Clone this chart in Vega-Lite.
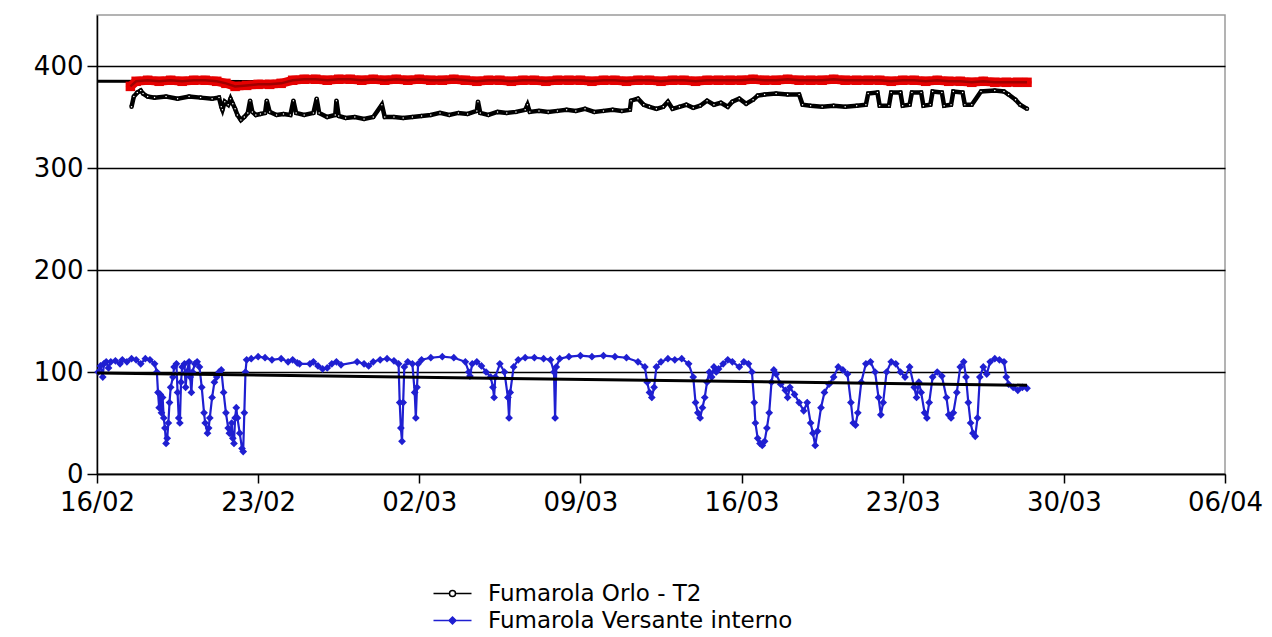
{
"$schema": "https://vega.github.io/schema/vega-lite/v6.json",
"width": 1128, "height": 459,
"autosize": {"type": "none"},
"padding": {"left": 97, "top": 15, "right": 47, "bottom": 163},
"background": "white",
"config": {"view": {"stroke": "#9a9a9a", "strokeWidth": 1.5}, "font": "DejaVu Sans"},
"datasets": {
"versante": [
{"time":"2010-02-16T01:12","value":100},{"time":"2010-02-16T03:36","value":106},{"time":"2010-02-16T06:00","value":95},{"time":"2010-02-16T07:12","value":108},{"time":"2010-02-16T09:36","value":110},{"time":"2010-02-16T12:00","value":104},{"time":"2010-02-16T14:24","value":110},{"time":"2010-02-16T19:12","value":111},
{"time":"2010-02-17T00:00","value":108},{"time":"2010-02-17T02:24","value":112},{"time":"2010-02-17T07:12","value":110},{"time":"2010-02-17T12:00","value":113},{"time":"2010-02-17T16:48","value":112},{"time":"2010-02-17T21:36","value":108},
{"time":"2010-02-18T02:24","value":113},{"time":"2010-02-18T07:12","value":112},{"time":"2010-02-18T12:00","value":108},{"time":"2010-02-18T14:24","value":100},{"time":"2010-02-18T15:36","value":80},{"time":"2010-02-18T16:48","value":65},{"time":"2010-02-18T18:00","value":78},{"time":"2010-02-18T19:12","value":60},{"time":"2010-02-18T20:24","value":75},{"time":"2010-02-18T21:36","value":55},{"time":"2010-02-18T22:48","value":45},
{"time":"2010-02-19T00:00","value":30},{"time":"2010-02-19T01:12","value":35},{"time":"2010-02-19T02:24","value":50},{"time":"2010-02-19T03:36","value":70},{"time":"2010-02-19T04:48","value":85},{"time":"2010-02-19T07:12","value":95},{"time":"2010-02-19T08:24","value":105},{"time":"2010-02-19T10:48","value":108},{"time":"2010-02-19T12:00","value":80},{"time":"2010-02-19T13:12","value":55},{"time":"2010-02-19T14:24","value":50},{"time":"2010-02-19T15:36","value":90},{"time":"2010-02-19T16:48","value":105},{"time":"2010-02-19T19:12","value":108},{"time":"2010-02-19T20:24","value":85},{"time":"2010-02-19T21:36","value":100},
{"time":"2010-02-20T00:00","value":110},{"time":"2010-02-20T01:12","value":95},{"time":"2010-02-20T02:24","value":80},{"time":"2010-02-20T03:36","value":100},{"time":"2010-02-20T06:00","value":108},{"time":"2010-02-20T08:24","value":110},{"time":"2010-02-20T10:48","value":105},{"time":"2010-02-20T13:12","value":85},{"time":"2010-02-20T15:36","value":60},{"time":"2010-02-20T16:48","value":50},{"time":"2010-02-20T19:12","value":40},{"time":"2010-02-20T20:24","value":45},{"time":"2010-02-20T21:36","value":55},
{"time":"2010-02-21T00:00","value":75},{"time":"2010-02-21T02:24","value":90},{"time":"2010-02-21T04:48","value":95},{"time":"2010-02-21T07:12","value":100},{"time":"2010-02-21T09:36","value":102},{"time":"2010-02-21T12:00","value":80},{"time":"2010-02-21T14:24","value":60},{"time":"2010-02-21T16:48","value":45},{"time":"2010-02-21T18:00","value":40},{"time":"2010-02-21T19:12","value":40},{"time":"2010-02-21T20:24","value":50},{"time":"2010-02-21T21:36","value":35},{"time":"2010-02-21T22:48","value":30},
{"time":"2010-02-22T00:00","value":55},{"time":"2010-02-22T01:12","value":65},{"time":"2010-02-22T02:24","value":55},{"time":"2010-02-22T04:48","value":40},{"time":"2010-02-22T07:12","value":25},{"time":"2010-02-22T08:24","value":22},{"time":"2010-02-22T09:36","value":60},{"time":"2010-02-22T10:48","value":100},{"time":"2010-02-22T12:00","value":112},{"time":"2010-02-22T16:48","value":113},
{"time":"2010-02-23T00:00","value":115},{"time":"2010-02-23T07:12","value":114},{"time":"2010-02-23T14:24","value":112},{"time":"2010-02-24T00:00","value":113},{"time":"2010-02-24T07:12","value":110},{"time":"2010-02-24T12:00","value":112},{"time":"2010-02-24T16:48","value":109},{"time":"2010-02-24T19:12","value":108},
{"time":"2010-02-25T06:00","value":108},{"time":"2010-02-25T09:36","value":110},{"time":"2010-02-25T14:24","value":106},{"time":"2010-02-25T19:12","value":103},{"time":"2010-02-26T00:00","value":104},{"time":"2010-02-26T04:48","value":108},{"time":"2010-02-26T09:36","value":110},{"time":"2010-02-26T14:24","value":107},
{"time":"2010-02-27T07:12","value":110},{"time":"2010-02-27T14:24","value":108},{"time":"2010-02-27T19:12","value":106},{"time":"2010-02-28T00:00","value":110},{"time":"2010-02-28T07:12","value":112},{"time":"2010-02-28T14:24","value":113},{"time":"2010-02-28T21:36","value":111},
{"time":"2010-03-01T02:24","value":108},{"time":"2010-03-01T03:36","value":70},{"time":"2010-03-01T04:48","value":45},{"time":"2010-03-01T06:00","value":32},{"time":"2010-03-01T07:12","value":70},{"time":"2010-03-01T08:24","value":105},{"time":"2010-03-01T12:00","value":110},{"time":"2010-03-01T16:48","value":108},{"time":"2010-03-01T19:12","value":80},{"time":"2010-03-01T20:24","value":55},{"time":"2010-03-01T21:36","value":85},{"time":"2010-03-01T22:48","value":108},
{"time":"2010-03-02T02:24","value":112},{"time":"2010-03-02T12:00","value":114},{"time":"2010-03-03T00:00","value":115},{"time":"2010-03-03T12:00","value":114},{"time":"2010-03-04T00:00","value":110},{"time":"2010-03-04T03:36","value":100},{"time":"2010-03-04T04:48","value":96},{"time":"2010-03-04T07:12","value":108},{"time":"2010-03-04T12:00","value":110},{"time":"2010-03-04T16:48","value":106},{"time":"2010-03-04T21:36","value":100},
{"time":"2010-03-05T02:24","value":95},{"time":"2010-03-05T04:48","value":85},{"time":"2010-03-05T06:00","value":75},{"time":"2010-03-05T07:12","value":95},{"time":"2010-03-05T12:00","value":108},{"time":"2010-03-05T16:48","value":100},{"time":"2010-03-05T20:24","value":75},{"time":"2010-03-05T21:36","value":55},{"time":"2010-03-05T22:48","value":80},
{"time":"2010-03-06T02:24","value":105},{"time":"2010-03-06T07:12","value":112},{"time":"2010-03-06T14:24","value":114},{"time":"2010-03-07T00:00","value":114},{"time":"2010-03-07T09:36","value":113},{"time":"2010-03-07T16:48","value":112},{"time":"2010-03-07T20:24","value":100},{"time":"2010-03-07T21:36","value":55},{"time":"2010-03-07T22:48","value":105},
{"time":"2010-03-08T02:24","value":113},{"time":"2010-03-08T12:00","value":115},{"time":"2010-03-09T00:00","value":116},{"time":"2010-03-09T12:00","value":115},{"time":"2010-03-10T00:00","value":116},{"time":"2010-03-10T12:00","value":115},{"time":"2010-03-11T00:00","value":114},{"time":"2010-03-11T12:00","value":110},{"time":"2010-03-11T19:12","value":105},{"time":"2010-03-11T21:36","value":90},
{"time":"2010-03-12T00:00","value":80},{"time":"2010-03-12T02:24","value":75},{"time":"2010-03-12T04:48","value":85},{"time":"2010-03-12T07:12","value":105},{"time":"2010-03-12T12:00","value":110},{"time":"2010-03-12T19:12","value":113},{"time":"2010-03-13T02:24","value":112},{"time":"2010-03-13T09:36","value":113},{"time":"2010-03-13T16:48","value":108},{"time":"2010-03-13T21:36","value":95},
{"time":"2010-03-14T00:00","value":70},{"time":"2010-03-14T02:24","value":60},{"time":"2010-03-14T04:48","value":55},{"time":"2010-03-14T07:12","value":65},{"time":"2010-03-14T09:36","value":75},{"time":"2010-03-14T12:00","value":90},{"time":"2010-03-14T14:24","value":100},{"time":"2010-03-14T16:48","value":95},{"time":"2010-03-14T19:12","value":105},{"time":"2010-03-14T21:36","value":100},
{"time":"2010-03-15T00:00","value":103},{"time":"2010-03-15T04:48","value":108},{"time":"2010-03-15T09:36","value":112},{"time":"2010-03-15T14:24","value":110},{"time":"2010-03-15T21:36","value":105},{"time":"2010-03-16T02:24","value":110},{"time":"2010-03-16T07:12","value":108},{"time":"2010-03-16T10:48","value":100},{"time":"2010-03-16T13:12","value":70},{"time":"2010-03-16T14:24","value":50},{"time":"2010-03-16T16:48","value":35},{"time":"2010-03-16T19:12","value":30},{"time":"2010-03-16T21:36","value":28},
{"time":"2010-03-17T00:00","value":32},{"time":"2010-03-17T02:24","value":45},{"time":"2010-03-17T04:48","value":60},{"time":"2010-03-17T07:12","value":90},{"time":"2010-03-17T09:36","value":102},{"time":"2010-03-17T12:00","value":98},{"time":"2010-03-17T16:48","value":88},{"time":"2010-03-17T21:36","value":82},
{"time":"2010-03-18T00:00","value":75},{"time":"2010-03-18T02:24","value":85},{"time":"2010-03-18T07:12","value":78},{"time":"2010-03-18T12:00","value":70},{"time":"2010-03-18T16:48","value":62},{"time":"2010-03-18T20:24","value":70},
{"time":"2010-03-19T00:00","value":50},{"time":"2010-03-19T02:24","value":40},{"time":"2010-03-19T04:48","value":28},{"time":"2010-03-19T07:12","value":42},{"time":"2010-03-19T10:48","value":65},{"time":"2010-03-19T14:24","value":80},{"time":"2010-03-19T19:12","value":88},
{"time":"2010-03-20T00:00","value":95},{"time":"2010-03-20T04:48","value":105},{"time":"2010-03-20T09:36","value":102},{"time":"2010-03-20T14:24","value":98},{"time":"2010-03-20T18:00","value":70},{"time":"2010-03-20T20:24","value":50},{"time":"2010-03-20T22:48","value":48},
{"time":"2010-03-21T01:12","value":60},{"time":"2010-03-21T04:48","value":90},{"time":"2010-03-21T09:36","value":108},{"time":"2010-03-21T14:24","value":110},{"time":"2010-03-21T19:12","value":100},{"time":"2010-03-21T22:48","value":75},
{"time":"2010-03-22T01:12","value":58},{"time":"2010-03-22T03:36","value":70},{"time":"2010-03-22T07:12","value":100},{"time":"2010-03-22T12:00","value":110},{"time":"2010-03-22T16:48","value":108},{"time":"2010-03-22T21:36","value":100},
{"time":"2010-03-23T02:24","value":95},{"time":"2010-03-23T07:12","value":105},{"time":"2010-03-23T12:00","value":85},{"time":"2010-03-23T14:24","value":75},{"time":"2010-03-23T16:48","value":90},{"time":"2010-03-23T19:12","value":80},{"time":"2010-03-23T22:48","value":60},
{"time":"2010-03-24T01:12","value":55},{"time":"2010-03-24T03:36","value":70},{"time":"2010-03-24T07:12","value":95},{"time":"2010-03-24T12:00","value":100},{"time":"2010-03-24T16:48","value":96},{"time":"2010-03-24T21:36","value":75},
{"time":"2010-03-25T00:00","value":58},{"time":"2010-03-25T02:24","value":55},{"time":"2010-03-25T04:48","value":60},{"time":"2010-03-25T08:24","value":80},{"time":"2010-03-25T12:00","value":105},{"time":"2010-03-25T15:36","value":110},{"time":"2010-03-25T18:00","value":95},{"time":"2010-03-25T20:24","value":70},{"time":"2010-03-25T22:48","value":50},
{"time":"2010-03-26T01:12","value":40},{"time":"2010-03-26T03:36","value":37},{"time":"2010-03-26T06:00","value":55},{"time":"2010-03-26T08:24","value":95},{"time":"2010-03-26T12:00","value":105},{"time":"2010-03-26T15:36","value":98},{"time":"2010-03-26T19:12","value":110},
{"time":"2010-03-27T00:00","value":113},{"time":"2010-03-27T04:48","value":112},{"time":"2010-03-27T09:36","value":110},{"time":"2010-03-27T12:00","value":95},{"time":"2010-03-27T14:24","value":88},{"time":"2010-03-27T19:12","value":85},
{"time":"2010-03-28T00:00","value":82},{"time":"2010-03-28T04:48","value":85},{"time":"2010-03-28T09:36","value":84}
],
"orlo": [
{"time":"2010-02-17T12:00","value":360},{"time":"2010-02-17T14:24","value":370},{"time":"2010-02-17T18:00","value":374},{"time":"2010-02-17T21:36","value":376},{"time":"2010-02-18T00:00","value":373},{"time":"2010-02-18T04:48","value":370},{"time":"2010-02-18T12:00","value":369},
{"time":"2010-02-19T00:00","value":370},{"time":"2010-02-19T12:00","value":368},{"time":"2010-02-20T00:00","value":370},{"time":"2010-02-20T12:00","value":369},{"time":"2010-02-21T00:00","value":368},{"time":"2010-02-21T07:12","value":369},{"time":"2010-02-21T09:36","value":360},{"time":"2010-02-21T10:48","value":357},{"time":"2010-02-21T13:12","value":365},{"time":"2010-02-21T16:48","value":362},{"time":"2010-02-21T19:12","value":368},{"time":"2010-02-21T21:36","value":363},
{"time":"2010-02-22T00:00","value":358},{"time":"2010-02-22T02:24","value":352},{"time":"2010-02-22T06:00","value":347},{"time":"2010-02-22T09:36","value":350},{"time":"2010-02-22T13:12","value":354},{"time":"2010-02-22T15:36","value":366},{"time":"2010-02-22T18:00","value":355},{"time":"2010-02-22T21:36","value":352},
{"time":"2010-02-23T02:24","value":353},{"time":"2010-02-23T07:12","value":354},{"time":"2010-02-23T09:00","value":366},{"time":"2010-02-23T12:00","value":355},{"time":"2010-02-23T19:12","value":352},{"time":"2010-02-24T02:24","value":353},{"time":"2010-02-24T09:36","value":352},{"time":"2010-02-24T12:45","value":366},{"time":"2010-02-24T15:36","value":354},
{"time":"2010-02-25T00:00","value":352},{"time":"2010-02-25T09:36","value":354},{"time":"2010-02-25T13:00","value":368},{"time":"2010-02-25T15:36","value":354},{"time":"2010-02-26T00:00","value":350},{"time":"2010-02-26T08:24","value":352},{"time":"2010-02-26T09:36","value":366},{"time":"2010-02-26T12:00","value":351},{"time":"2010-02-26T19:12","value":349},
{"time":"2010-02-27T04:48","value":350},{"time":"2010-02-27T14:24","value":348},{"time":"2010-02-28T00:00","value":350},{"time":"2010-02-28T09:00","value":362},{"time":"2010-02-28T12:00","value":350},{"time":"2010-02-28T21:36","value":350},
{"time":"2010-03-01T07:12","value":349},{"time":"2010-03-01T16:48","value":350},{"time":"2010-03-02T02:24","value":351},{"time":"2010-03-02T12:00","value":352},{"time":"2010-03-02T21:36","value":354},{"time":"2010-03-03T07:12","value":352},{"time":"2010-03-03T16:48","value":354},
{"time":"2010-03-04T02:24","value":353},{"time":"2010-03-04T12:00","value":356},{"time":"2010-03-04T13:12","value":365},{"time":"2010-03-04T15:36","value":354},{"time":"2010-03-05T00:00","value":352},{"time":"2010-03-05T09:36","value":355},{"time":"2010-03-05T19:12","value":354},
{"time":"2010-03-06T04:48","value":355},{"time":"2010-03-06T14:24","value":357},{"time":"2010-03-06T16:48","value":362},{"time":"2010-03-06T19:12","value":355},{"time":"2010-03-07T04:48","value":356},{"time":"2010-03-07T14:24","value":355},
{"time":"2010-03-08T00:00","value":356},{"time":"2010-03-08T09:36","value":357},{"time":"2010-03-08T19:12","value":356},{"time":"2010-03-09T04:48","value":358},{"time":"2010-03-09T14:24","value":355},{"time":"2010-03-10T00:00","value":356},{"time":"2010-03-10T09:36","value":357},{"time":"2010-03-10T19:12","value":356},
{"time":"2010-03-11T03:36","value":357},{"time":"2010-03-11T04:48","value":366},{"time":"2010-03-11T12:00","value":368},{"time":"2010-03-11T18:00","value":362},{"time":"2010-03-12T00:00","value":360},{"time":"2010-03-12T07:12","value":358},{"time":"2010-03-12T14:24","value":360},{"time":"2010-03-12T19:12","value":365},
{"time":"2010-03-13T00:00","value":358},{"time":"2010-03-13T07:12","value":360},{"time":"2010-03-13T14:24","value":362},{"time":"2010-03-13T21:36","value":359},{"time":"2010-03-14T04:48","value":361},{"time":"2010-03-14T12:00","value":366},{"time":"2010-03-14T19:12","value":362},
{"time":"2010-03-15T02:24","value":364},{"time":"2010-03-15T09:36","value":360},{"time":"2010-03-15T14:24","value":365},{"time":"2010-03-15T21:36","value":368},{"time":"2010-03-16T04:48","value":363},{"time":"2010-03-16T12:00","value":367},{"time":"2010-03-16T16:48","value":371},
{"time":"2010-03-17T00:00","value":372},{"time":"2010-03-17T12:00","value":373},{"time":"2010-03-18T00:00","value":372},{"time":"2010-03-18T12:00","value":372},{"time":"2010-03-18T15:36","value":362},{"time":"2010-03-19T00:00","value":361},{"time":"2010-03-19T12:00","value":360},
{"time":"2010-03-20T00:00","value":361},{"time":"2010-03-20T12:00","value":360},{"time":"2010-03-21T00:00","value":361},{"time":"2010-03-21T09:36","value":362},{"time":"2010-03-21T12:00","value":373},{"time":"2010-03-21T21:36","value":374},
{"time":"2010-03-22T00:00","value":361},{"time":"2010-03-22T09:36","value":361},{"time":"2010-03-22T12:00","value":374},{"time":"2010-03-22T21:36","value":374},{"time":"2010-03-23T00:00","value":361},{"time":"2010-03-23T07:12","value":362},{"time":"2010-03-23T09:36","value":374},{"time":"2010-03-23T19:12","value":374},{"time":"2010-03-23T21:36","value":361},
{"time":"2010-03-24T04:48","value":362},{"time":"2010-03-24T07:12","value":375},{"time":"2010-03-24T16:48","value":374},{"time":"2010-03-24T19:12","value":361},{"time":"2010-03-25T02:24","value":362},{"time":"2010-03-25T04:48","value":375},{"time":"2010-03-25T14:24","value":374},{"time":"2010-03-25T16:48","value":362},
{"time":"2010-03-26T00:00","value":362},{"time":"2010-03-26T09:36","value":375},{"time":"2010-03-27T00:00","value":376},{"time":"2010-03-27T09:36","value":375},{"time":"2010-03-27T14:24","value":372},{"time":"2010-03-27T21:36","value":367},{"time":"2010-03-28T02:24","value":362},{"time":"2010-03-28T09:36","value":358}
],
"rossa": [
{"time":"2010-02-17T10:48","value":380},{"time":"2010-02-17T16:48","value":385},{"time":"2010-02-18T04:48","value":386},{"time":"2010-02-18T16:48","value":385},{"time":"2010-02-19T04:48","value":386},{"time":"2010-02-19T16:48","value":385},{"time":"2010-02-20T04:48","value":386},{"time":"2010-02-20T16:48","value":386},{"time":"2010-02-21T04:48","value":385},{"time":"2010-02-21T14:24","value":383},
{"time":"2010-02-22T00:00","value":380},{"time":"2010-02-22T12:00","value":381},{"time":"2010-02-23T00:00","value":382},{"time":"2010-02-23T12:00","value":382},{"time":"2010-02-24T00:00","value":383},{"time":"2010-02-24T12:00","value":386},
{"time":"2010-02-25T00:00","value":387},{"time":"2010-02-25T12:00","value":387},{"time":"2010-02-26T00:00","value":386},{"time":"2010-02-26T12:00","value":387},{"time":"2010-02-27T00:00","value":387},{"time":"2010-02-27T12:00","value":386},{"time":"2010-02-28T00:00","value":387},{"time":"2010-02-28T12:00","value":386},
{"time":"2010-03-01T00:00","value":387},{"time":"2010-03-01T12:00","value":386},{"time":"2010-03-02T00:00","value":387},{"time":"2010-03-02T12:00","value":386},{"time":"2010-03-03T00:00","value":386},{"time":"2010-03-03T12:00","value":387},{"time":"2010-03-04T00:00","value":386},{"time":"2010-03-04T12:00","value":385},
{"time":"2010-03-05T00:00","value":386},{"time":"2010-03-05T12:00","value":386},{"time":"2010-03-06T00:00","value":385},{"time":"2010-03-06T12:00","value":386},{"time":"2010-03-07T00:00","value":386},{"time":"2010-03-07T12:00","value":385},{"time":"2010-03-08T00:00","value":386},{"time":"2010-03-08T12:00","value":386},
{"time":"2010-03-09T00:00","value":386},{"time":"2010-03-09T12:00","value":385},{"time":"2010-03-10T00:00","value":386},{"time":"2010-03-10T12:00","value":386},{"time":"2010-03-11T00:00","value":385},{"time":"2010-03-11T12:00","value":386},{"time":"2010-03-12T00:00","value":386},{"time":"2010-03-12T12:00","value":385},
{"time":"2010-03-13T00:00","value":386},{"time":"2010-03-13T12:00","value":386},{"time":"2010-03-14T00:00","value":385},{"time":"2010-03-14T12:00","value":386},{"time":"2010-03-15T00:00","value":386},{"time":"2010-03-15T12:00","value":386},{"time":"2010-03-16T00:00","value":386},{"time":"2010-03-16T12:00","value":387},
{"time":"2010-03-17T00:00","value":386},{"time":"2010-03-17T12:00","value":386},{"time":"2010-03-18T00:00","value":387},{"time":"2010-03-18T12:00","value":386},{"time":"2010-03-19T00:00","value":386},{"time":"2010-03-19T12:00","value":386},{"time":"2010-03-20T00:00","value":387},{"time":"2010-03-20T12:00","value":386},
{"time":"2010-03-21T00:00","value":386},{"time":"2010-03-21T12:00","value":386},{"time":"2010-03-22T00:00","value":386},{"time":"2010-03-22T12:00","value":385},{"time":"2010-03-23T00:00","value":386},{"time":"2010-03-23T12:00","value":386},{"time":"2010-03-24T00:00","value":385},{"time":"2010-03-24T12:00","value":386},
{"time":"2010-03-25T00:00","value":385},{"time":"2010-03-25T12:00","value":385},{"time":"2010-03-26T00:00","value":384},{"time":"2010-03-26T12:00","value":385},{"time":"2010-03-27T00:00","value":384},{"time":"2010-03-27T12:00","value":384},{"time":"2010-03-28T00:00","value":384},{"time":"2010-03-28T09:36","value":384}
],
"tendenza_alta": [{"time":"2010-02-16T00:00","value":385},{"time":"2010-03-28T09:36","value":384}],
"tendenza_bassa": [{"time":"2010-02-16T00:00","value":99},{"time":"2010-03-28T09:36","value":87}]
},
"encoding": {
"x": {"field": "time", "type": "temporal",
 "scale": {"domain": [{"year": 2010, "month": 2, "date": 16}, {"year": 2010, "month": 4, "date": 6}]},
 "axis": {"title": null, "format": "%d/%m", "grid": false,
  "values": [{"year": 2010, "month": 2, "date": 16}, {"year": 2010, "month": 2, "date": 23}, {"year": 2010, "month": 3, "date": 2}, {"year": 2010, "month": 3, "date": 9}, {"year": 2010, "month": 3, "date": 16}, {"year": 2010, "month": 3, "date": 23}, {"year": 2010, "month": 3, "date": 30}, {"year": 2010, "month": 4, "date": 6}],
  "labelFont": "DejaVu Sans", "labelFontSize": 26, "labelColor": "black", "labelPadding": 6, "labelFlush": false, "labelOverlap": false,
  "tickColor": "black", "tickSize": 9, "tickWidth": 1.5, "domainColor": "black", "domainWidth": 1.5}},
"y": {"field": "value", "type": "quantitative",
 "scale": {"domain": [0, 450], "nice": false, "zero": true},
 "axis": {"title": null, "values": [0, 100, 200, 300, 400], "grid": true, "gridColor": "black", "gridWidth": 1.5, "gridOpacity": 1,
  "labelFont": "DejaVu Sans", "labelFontSize": 26, "labelColor": "black", "labelPadding": 4,
  "tickColor": "black", "tickSize": 10, "tickWidth": 1.5, "domainColor": "black", "domainWidth": 1.5}}
},
"layer": [
{"data": {"name": "versante"}, "mark": {"type": "line", "strokeWidth": 2.2},
 "encoding": {"color": {"datum": "Fumarola Versante interno"}}},
{"data": {"name": "versante"}, "mark": {"type": "point", "shape": "diamond", "filled": true, "color": "#1f1fd1", "size": 60, "opacity": 1}},
{"data": {"name": "orlo"}, "mark": {"type": "line", "strokeWidth": 4.5},
 "encoding": {"color": {"datum": "Fumarola Orlo - T2",
  "scale": {"domain": ["Fumarola Orlo - T2", "Fumarola Versante interno"], "range": ["black", "#1f1fd1"]},
  "legend": {"title": null, "orient": "none", "legendX": 344, "legendY": 567, "direction": "vertical", "padding": 0,
   "labelFont": "DejaVu Sans", "labelFontSize": 23, "labelColor": "black", "labelOffset": 24, "labelLimit": 0, "rowPadding": 3,
   "symbolSize": 400, "symbolStrokeWidth": 1.5,
   "encode": {"symbols": {"update": {
     "shape": {"signal": "datum.value === 'Fumarola Orlo - T2' ? 'M-1.9,0H-0.3A0.3,0.3 0 1,1 0.3,0A0.3,0.3 0 1,1 -0.3,0M0.3,0H1.9' : 'M-1.9,0H1.9M0,-0.35L0.35,0L0,0.35L-0.35,0Z'"},
     "fill": {"signal": "datum.value === 'Fumarola Orlo - T2' ? 'white' : '#1f1fd1'"},
     "stroke": {"signal": "datum.value === 'Fumarola Orlo - T2' ? 'black' : '#1f1fd1'"},
     "strokeWidth": {"value": 1.5}, "opacity": {"value": 1}, "fillOpacity": {"value": 1}}}}}}}},
{"data": {"name": "orlo"}, "mark": {"type": "point", "shape": "circle", "filled": true, "fill": "white", "stroke": "black", "strokeWidth": 1.5, "size": 9, "opacity": 1}},
{"data": {"name": "tendenza_bassa"}, "mark": {"type": "line", "color": "black", "strokeWidth": 3}, "encoding": {}},
{"data": {"name": "tendenza_alta"}, "mark": {"type": "line", "color": "black", "strokeWidth": 3}, "encoding": {}},
{"data": {"name": "rossa"}, "mark": {"type": "line", "color": "#e60000", "strokeWidth": 9, "strokeCap": "round"}, "encoding": {}},
{"data": {"name": "rossa"}, "mark": {"type": "point", "shape": "square", "filled": true, "color": "#e60000", "size": 90, "opacity": 1}, "encoding": {}},
{"data": {"name": "rossa"}, "mark": {"type": "line", "color": "#a00000", "strokeWidth": 2.5}, "encoding": {}}
]
}
